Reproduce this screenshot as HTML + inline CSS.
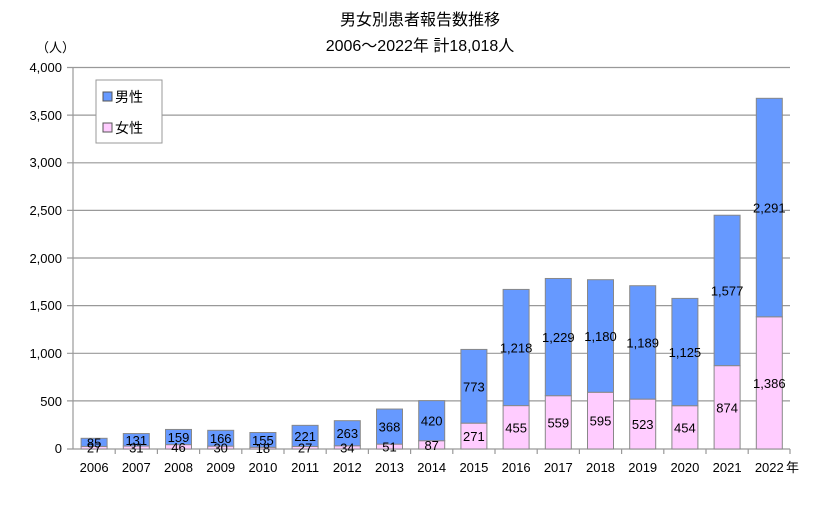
<!DOCTYPE html>
<html><head><meta charset="utf-8"><style>
body{margin:0;background:#fff}
svg text{font-family:"Liberation Sans","Noto Sans CJK JP",sans-serif;fill:#000}
.f{fill:#ffccff;stroke:#888}.m{fill:#6699ff;stroke:#888}
</style></head><body>
<svg width="819" height="501" xmlns="http://www.w3.org/2000/svg">
<text x="420" y="25" font-size="16" text-anchor="middle">男女別患者報告数推移</text>
<text x="420" y="51" font-size="16" text-anchor="middle">2006～2022年  計18,018人</text>
<text x="36" y="52" font-size="13">（人）</text>
<g stroke="#999" stroke-width="1.2">
<line x1="67" y1="67.5" x2="790" y2="67.5"/>
<line x1="67" y1="115.1" x2="790" y2="115.1"/>
<line x1="67" y1="162.8" x2="790" y2="162.8"/>
<line x1="67" y1="210.4" x2="790" y2="210.4"/>
<line x1="67" y1="258" x2="790" y2="258"/>
<line x1="67" y1="305.6" x2="790" y2="305.6"/>
<line x1="67" y1="353.3" x2="790" y2="353.3"/>
<line x1="67" y1="400.9" x2="790" y2="400.9"/>
<line x1="73" y1="67" x2="73" y2="449"/>
<line x1="67" y1="449" x2="790" y2="449"/>
<line x1="115.2" y1="449" x2="115.2" y2="454"/><line x1="157.4" y1="449" x2="157.4" y2="454"/><line x1="199.6" y1="449" x2="199.6" y2="454"/><line x1="241.8" y1="449" x2="241.8" y2="454"/><line x1="284" y1="449" x2="284" y2="454"/><line x1="326.2" y1="449" x2="326.2" y2="454"/><line x1="368.4" y1="449" x2="368.4" y2="454"/><line x1="410.6" y1="449" x2="410.6" y2="454"/><line x1="452.8" y1="449" x2="452.8" y2="454"/><line x1="495" y1="449" x2="495" y2="454"/><line x1="537.2" y1="449" x2="537.2" y2="454"/><line x1="579.4" y1="449" x2="579.4" y2="454"/><line x1="621.6" y1="449" x2="621.6" y2="454"/><line x1="663.8" y1="449" x2="663.8" y2="454"/><line x1="706" y1="449" x2="706" y2="454"/><line x1="748.2" y1="449" x2="748.2" y2="454"/><line x1="790" y1="449" x2="790" y2="454"/>
</g>
<g font-size="13" text-anchor="end">
<text x="62" y="72">4,000</text><text x="62" y="120">3,500</text><text x="62" y="167">3,000</text><text x="62" y="215">2,500</text><text x="62" y="263">2,000</text><text x="62" y="310">1,500</text><text x="62" y="358">1,000</text><text x="62" y="406">500</text><text x="62" y="453">0</text>
</g>
<g>
<rect class="f" x="81.1" y="446.42" width="26" height="2.58"/><rect class="m" x="81.1" y="438.31" width="26" height="8.11"/>
<rect class="f" x="123.3" y="446.04" width="26" height="2.96"/><rect class="m" x="123.3" y="433.55" width="26" height="12.49"/>
<rect class="f" x="165.5" y="444.61" width="26" height="4.39"/><rect class="m" x="165.5" y="429.45" width="26" height="15.16"/>
<rect class="f" x="207.7" y="446.14" width="26" height="2.86"/><rect class="m" x="207.7" y="430.31" width="26" height="15.83"/>
<rect class="f" x="249.9" y="447.28" width="26" height="1.72"/><rect class="m" x="249.9" y="432.5" width="26" height="14.78"/>
<rect class="f" x="292.1" y="446.42" width="26" height="2.58"/><rect class="m" x="292.1" y="425.34" width="26" height="21.08"/>
<rect class="f" x="334.3" y="445.76" width="26" height="3.24"/><rect class="m" x="334.3" y="420.68" width="26" height="25.08"/>
<rect class="f" x="376.5" y="444.14" width="26" height="4.86"/><rect class="m" x="376.5" y="409.04" width="26" height="35.1"/>
<rect class="f" x="418.7" y="440.7" width="26" height="8.3"/><rect class="m" x="418.7" y="400.64" width="26" height="40.06"/>
<rect class="f" x="460.9" y="423.15" width="26" height="25.85"/><rect class="m" x="460.9" y="349.43" width="26" height="73.72"/>
<rect class="f" x="503.1" y="405.6" width="26" height="43.4"/><rect class="m" x="503.1" y="289.43" width="26" height="116.17"/>
<rect class="f" x="545.3" y="395.69" width="26" height="53.31"/><rect class="m" x="545.3" y="278.47" width="26" height="117.22"/>
<rect class="f" x="587.5" y="392.25" width="26" height="56.75"/><rect class="m" x="587.5" y="279.71" width="26" height="112.54"/>
<rect class="f" x="629.7" y="399.12" width="26" height="49.88"/><rect class="m" x="629.7" y="285.72" width="26" height="113.4"/>
<rect class="f" x="671.9" y="405.7" width="26" height="43.3"/><rect class="m" x="671.9" y="298.4" width="26" height="107.3"/>
<rect class="f" x="714.1" y="365.64" width="26" height="83.36"/><rect class="m" x="714.1" y="215.23" width="26" height="150.41"/>
<rect class="f" x="756.3" y="316.81" width="26" height="132.19"/><rect class="m" x="756.3" y="98.31" width="26" height="218.5"/>
</g>
<g font-size="13" text-anchor="middle">
<text x="94.1" y="452.7">27</text><text x="94.1" y="447.4">85</text>
<text x="136.3" y="452.5">31</text><text x="136.3" y="444.8">131</text>
<text x="178.5" y="451.8">46</text><text x="178.5" y="442">159</text>
<text x="220.7" y="452.6">30</text><text x="220.7" y="443.2">166</text>
<text x="262.9" y="453.1">18</text><text x="262.9" y="444.9">155</text>
<text x="305.1" y="452.7">27</text><text x="305.1" y="440.9">221</text>
<text x="347.3" y="452.4">34</text><text x="347.3" y="438.2">263</text>
<text x="389.5" y="451.6">51</text><text x="389.5" y="431.6">368</text>
<text x="431.7" y="449.9">87</text><text x="431.7" y="425.7">420</text>
<text x="473.9" y="441.1">271</text><text x="473.9" y="391.3">773</text>
<text x="516.1" y="432.3">455</text><text x="516.1" y="352.5">1,218</text>
<text x="558.3" y="427.3">559</text><text x="558.3" y="342.1">1,229</text>
<text x="600.5" y="425.6">595</text><text x="600.5" y="341">1,180</text>
<text x="642.7" y="429.1">523</text><text x="642.7" y="347.4">1,189</text>
<text x="684.9" y="432.4">454</text><text x="684.9" y="357.1">1,125</text>
<text x="727.1" y="412.3">874</text><text x="727.1" y="295.4">1,577</text>
<text x="769.3" y="387.9">1,386</text><text x="769.3" y="212.6">2,291</text>
<text x="94.1" y="472">2006</text><text x="136.3" y="472">2007</text><text x="178.5" y="472">2008</text><text x="220.7" y="472">2009</text><text x="262.9" y="472">2010</text><text x="305.1" y="472">2011</text><text x="347.3" y="472">2012</text><text x="389.5" y="472">2013</text><text x="431.7" y="472">2014</text><text x="473.9" y="472">2015</text><text x="516.1" y="472">2016</text><text x="558.3" y="472">2017</text><text x="600.5" y="472">2018</text><text x="642.7" y="472">2019</text><text x="684.9" y="472">2020</text><text x="727.1" y="472">2021</text><text x="769.3" y="472">2022</text>
</g>
<text x="786" y="472" font-size="13">年</text>
<rect x="96" y="80" width="66" height="63" fill="#fff" stroke="#999"/>
<rect x="103" y="92" width="9" height="9" fill="#6699ff" stroke="#555"/>
<text x="115" y="102" font-size="14">男性</text>
<rect x="103" y="123" width="9" height="9" fill="#ffccff" stroke="#555"/>
<text x="115" y="133" font-size="14">女性</text>
</svg>
</body></html>
